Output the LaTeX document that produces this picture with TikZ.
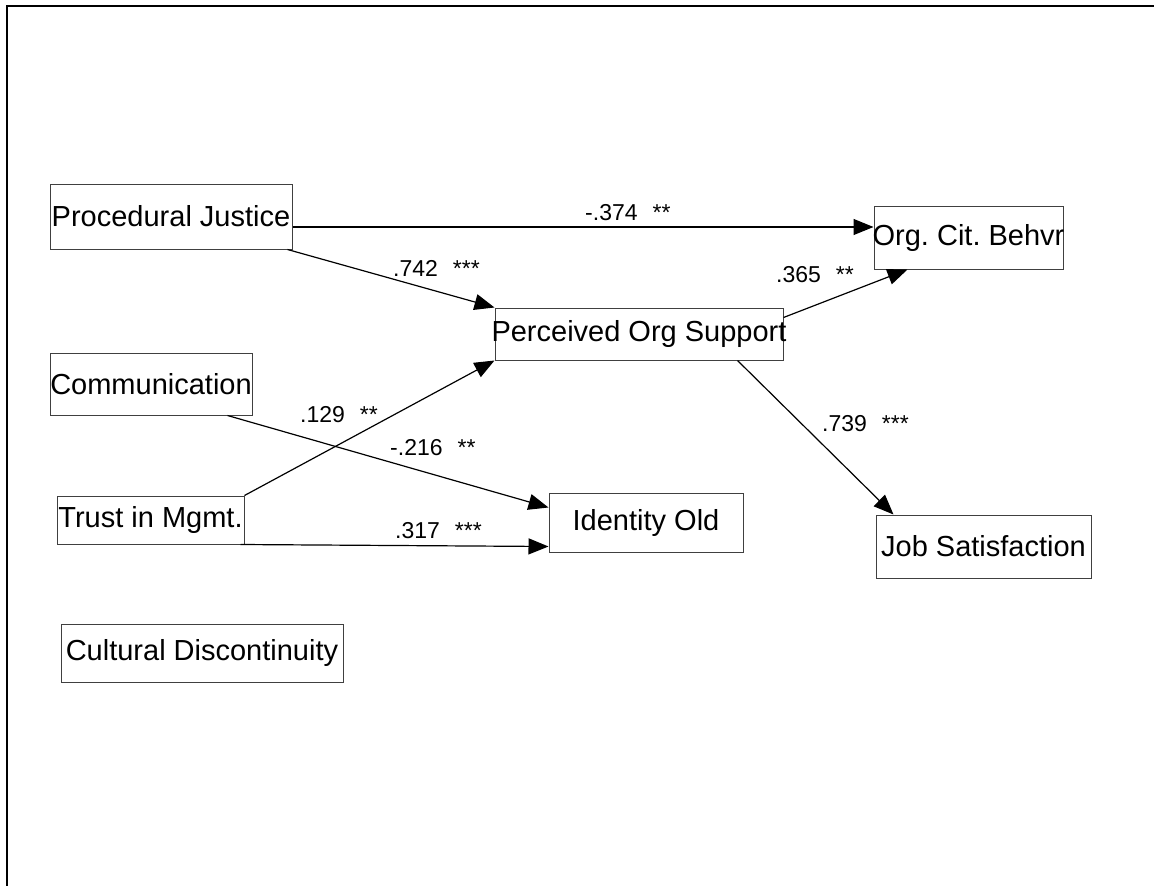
\documentclass[tikz,border=0pt]{standalone}
\usepackage{fontspec}
\setmainfont{Liberation Sans}
\usetikzlibrary{arrows.meta}
\frenchspacing
\begin{document}
\begin{tikzpicture}[x=1pt,y=-1pt,
  var/.style={draw=black!75, line width=1pt, rectangle, inner sep=0pt,
              font=\fontsize{29}{34}\selectfont},
  link/.style={draw=black, line width=1.2pt, -{Triangle[length=20pt,width=16pt]}},
  coef/.style={anchor=base west, inner sep=0pt, font=\fontsize{23}{27}\selectfont}]
\useasboundingbox (0,0) rectangle (1154,886);

% frame
\draw[line width=2pt] (7,886) -- (7,6) -- (1154,6);

% variables
\node[var, minimum width=242pt, minimum height=65pt] (pj)    at (171,216.5) {\makebox[0pt]{Procedural Justice}};
\node[var, minimum width=189pt, minimum height=63pt] (ocb)   at (968.5,237.5) {\makebox[0pt]{Org. Cit. Behvr}};
\node[var, minimum width=288pt, minimum height=52pt] (pos)   at (639,334) {\makebox[0pt]{Perceived Org Support}};
\node[var, minimum width=202pt, minimum height=62pt] (comm)  at (151,384) {\makebox[0pt]{Communication}};
\node[var, minimum width=187pt, minimum height=48pt] (trust) at (150.5,520) {\makebox[0pt]{Trust in Mgmt.}};
\node[var, minimum width=194pt, minimum height=59pt] (io)    at (646,522.5) {\makebox[0pt]{Identity Old}};
\node[var, minimum width=215pt, minimum height=63pt] (js)    at (983.5,546.5) {\makebox[0pt]{Job Satisfaction}};
\node[var, minimum width=282pt, minimum height=58pt] (cd)    at (202,653) {\makebox[0pt]{Cultural Discontinuity}};

% paths
\draw[link] ([yshift=-10.5pt]pj.east) -- ([yshift=10.5pt]ocb.west);
\draw[link] ([xshift=-5pt]pj.south east) -- (pos.north west);
\draw[link] ([yshift=-10pt]pos.north east) -- ([xshift=34pt]ocb.south west);
\draw[link] ([xshift=-46pt]pos.south east) -- ([xshift=18pt]js.north west);
\draw[link] ([xshift=-25pt]comm.south east) -- ([yshift=-15pt]io.north west);
\draw[link] (trust.north east) -- (pos.south west);
\draw[link] ([xshift=-4pt]trust.south east) -- ([yshift=6pt]io.south west);

% coefficients
\node[coef] (c1) at (585,220) {-.374\hspace{15pt}**};
\node[coef] (c2) at (393,276) {.742\hspace{15pt}***};
\node[coef] (c3) at (776,282) {.365\hspace{15pt}**};
\node[coef] (c4) at (822,431) {.739\hspace{15pt}***};
\node[coef] (c5) at (300,422) {.129\hspace{15pt}**};
\node[coef] (c6) at (390,455) {-.216\hspace{15pt}**};
\node[coef] (c7) at (395,538) {.317\hspace{15pt}***};
\end{tikzpicture}
\end{document}
